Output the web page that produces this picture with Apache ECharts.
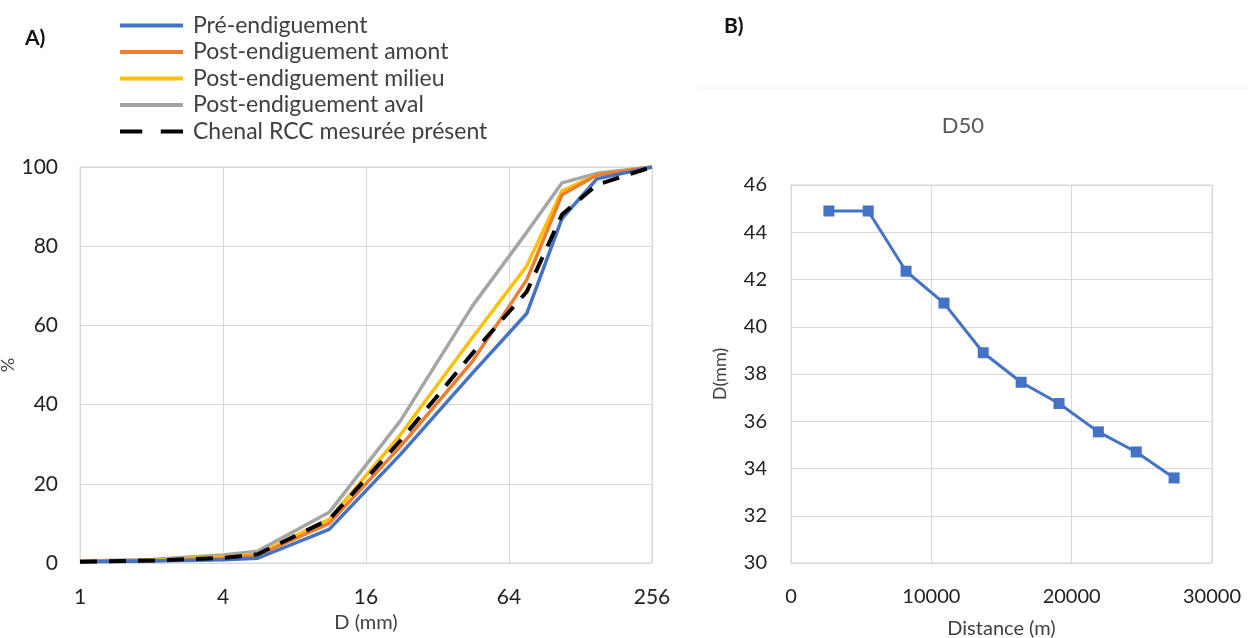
<!DOCTYPE html>
<html>
<head>
<meta charset="utf-8">
<script src="https://cdn.jsdelivr.net/npm/echarts@6/dist/echarts.min.js"></script>
<style>
html,body{margin:0;padding:0;background:#fff;}
#chart{width:1248px;height:638px;}
</style>
</head>
<body>
<div id="chart"></div>
<script>
// ---- Data: panel A (grain size distribution) ----
const sizes = [1, 2, 4, 5.6, 11.2, 22.4, 45, 76, 107, 150, 256];
const preEndiguement = [0.3, 0.5, 0.8, 1.2, 8.5, 27.5, 48, 63, 87, 97, 100];
const postAmont      = [0.4, 0.6, 1.2, 1.9, 10, 29.5, 51, 71.5, 93, 98, 100];
const postMilieu     = [0.4, 0.7, 1.5, 2.2, 11, 32.5, 57, 75, 94, 98, 100];
const postAval       = [0.5, 0.9, 2.0, 3.0, 12.8, 36, 65, 83.5, 96, 98.4, 100];
const chenalRCC      = [0.3, 0.6, 1.3, 2.2, 11, 31, 53, 68.5, 88, 95.5, 100];
const seriesNames = ['Pré-endiguement', 'Post-endiguement amont', 'Post-endiguement milieu', 'Post-endiguement aval', 'Chenal RCC mesurée présent'];
const xTicksA = [1, 4, 16, 64, 256];

// ---- Data: panel B (D50 along distance) ----
const distance = [2700, 5500, 8200, 10900, 13700, 16400, 19100, 21900, 24600, 27300];
const d50 = [44.9, 44.9, 42.35, 41.0, 38.9, 37.65, 36.75, 35.55, 34.7, 33.6];

const FONT = 'Lato, "Open Sans", sans-serif';
const TXT = '#404040';
const GRID = '#d9d9d9';

function pairs(xs, ys){ return xs.map((x,i)=>[x, ys[i]]); }

const colors = ['#4472C4', '#ED7D31', '#FFC000', '#A5A5A5', '#000000'];
const valuesA = [preEndiguement, postAmont, postMilieu, postAval, chenalRCC];
const zOrder = [5, 4, 3, 2, 10];

const seriesA = valuesA.map((vals, i) => ({
  name: seriesNames[i],
  type: 'line',
  xAxisIndex: 0, yAxisIndex: 0,
  data: pairs(sizes, vals),
  symbol: 'none',
  smooth: false,
  z: zOrder[i],
  lineStyle: i === 4
    ? {color: colors[i], width: 4, type: [17, 12], cap: 'butt'}
    : {color: colors[i], width: 3.5},
  itemStyle: {color: colors[i]}
}));

const DASH_ICON = 'path://M0,0H18V4H0Z M33,0H51V4H33Z';
const legendData = seriesNames.map((n, i) => ({
  name: n,
  icon: i === 4 ? DASH_ICON : 'rect',
  itemStyle: {color: colors[i]}
}));

const chart = echarts.init(document.getElementById('chart'), null, {renderer: 'canvas'});
chart.setOption({
  animation: false,
  backgroundColor: '#ffffff',
  textStyle: {fontFamily: FONT},
  title: [{
    text: 'D50',
    left: 958, top: 110, textAlign: 'center',
    textStyle: {fontFamily: FONT, fontSize: 22, fontWeight: 'normal', color: '#595959'}
  }],
  legend: {
    data: legendData,
    orient: 'vertical',
    left: 120, top: 14, padding: 0,
    itemWidth: 63, itemHeight: 4, itemGap: 3.5,
    symbolKeepAspect: false,
    textStyle: {fontFamily: FONT, fontSize: 23, color: TXT, padding: [0, 0, 0, 5]},
    selectedMode: false
  },
  grid: [
    {left: 80, right: 596, top: 167, bottom: 75, show: true, borderColor: GRID, borderWidth: 1, outerBoundsMode: 'none', containLabel: false},
    {left: 791, right: 36, top: 185, bottom: 75, show: true, borderColor: GRID, borderWidth: 1, outerBoundsMode: 'none', containLabel: false}
  ],
  xAxis: [
    {
      gridIndex: 0, type: 'log', logBase: 4, min: 1, max: 256, interval: 1,
      name: 'D (mm)', nameLocation: 'middle', nameGap: 46,
      nameTextStyle: {fontFamily: FONT, fontSize: 20, color: TXT},
      axisLine: {show: false}, axisTick: {show: false},
      axisLabel: {fontFamily: FONT, fontSize: 21, color: '#222', margin: 24,
        formatter: v => { const r = Math.round(v); return xTicksA.includes(r) ? String(r) : ''; }},
      splitLine: {show: true, lineStyle: {color: GRID, width: 1}}
    },
    {
      gridIndex: 1, type: 'value', min: 0, max: 30000, interval: 10000,
      name: 'Distance (m)', nameLocation: 'middle', nameGap: 56,
      nameTextStyle: {fontFamily: FONT, fontSize: 20, color: TXT},
      axisLine: {show: false}, axisTick: {show: false},
      axisLabel: {fontFamily: FONT, fontSize: 20, color: '#222', margin: 24,
        formatter: v => String(v)},
      splitLine: {show: true, lineStyle: {color: GRID, width: 1}}
    }
  ],
  yAxis: [
    {
      gridIndex: 0, type: 'value', min: 0, max: 100, interval: 20,
      name: '%', nameLocation: 'middle', nameGap: 52, nameRotate: 90,
      nameTextStyle: {fontFamily: FONT, fontSize: 18, color: TXT},
      axisLine: {show: false}, axisTick: {show: false},
      axisLabel: {fontFamily: FONT, fontSize: 21, color: '#222', margin: 22},
      splitLine: {show: true, lineStyle: {color: GRID, width: 1}}
    },
    {
      gridIndex: 1, type: 'value', min: 30, max: 46, interval: 2,
      name: 'D(mm)', nameLocation: 'middle', nameGap: 62, nameRotate: 90,
      nameTextStyle: {fontFamily: FONT, fontSize: 18, color: TXT},
      axisLine: {show: false}, axisTick: {show: false},
      axisLabel: {fontFamily: FONT, fontSize: 20, color: '#222', margin: 24},
      splitLine: {show: true, lineStyle: {color: GRID, width: 1}}
    }
  ],
  series: seriesA.concat([{
    name: 'D50',
    type: 'line',
    xAxisIndex: 1, yAxisIndex: 1,
    data: pairs(distance, d50),
    symbol: 'rect', symbolSize: 11,
    lineStyle: {color: '#4472C4', width: 3},
    itemStyle: {color: '#4472C4'},
    z: 5
  }]),
  graphic: [
    {type: 'text', left: 25, top: 28, style: {text: 'A)', fontFamily: FONT, fontSize: 21, fontWeight: 'bold', fill: '#111'}},
    {type: 'text', left: 724, top: 16, style: {text: 'B)', fontFamily: FONT, fontSize: 21, fontWeight: 'bold', fill: '#111'}},
    {type: 'line', shape: {x1: 700, y1: 88, x2: 1248, y2: 88}, style: {stroke: '#f0f0f0', lineWidth: 1}}
  ]
});
</script>
</body>
</html>
